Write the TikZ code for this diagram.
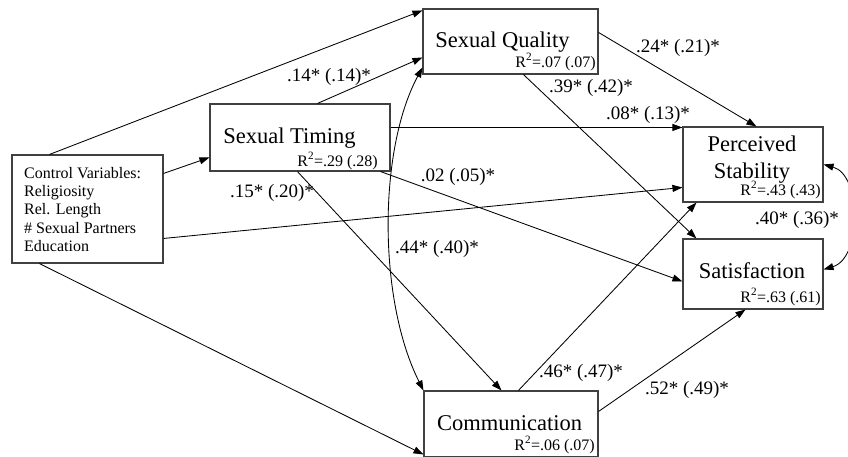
\documentclass[tikz,border=0pt]{standalone}
\usepackage{fontspec}
\setmainfont{Liberation Serif}
\usetikzlibrary{arrows.meta,calc}
\tikzset{
  box/.style={draw=black!75, line width=1.1pt, inner sep=0pt},
  title/.style={font=\fontsize{22.5}{26.5}\selectfont, inner sep=0pt, align=center},
  rsq/.style={font=\fontsize{16}{18}\selectfont, inner sep=0pt, anchor=base east},
  coef/.style={font=\fontsize{19}{21}\selectfont, inner sep=0pt},
  ctrl/.style={font=\fontsize{16}{18.3}\selectfont, inner sep=0pt, align=left, anchor=north west},
  arr/.style={line width=0.85pt, -{Triangle[length=10pt,width=7pt]}},
  darr/.style={line width=0.85pt, {Triangle[length=10pt,width=7pt]}-{Triangle[length=10pt,width=7pt]}},
}
\begin{document}
\begin{tikzpicture}[x=1pt,y=-1pt]
\useasboundingbox (0,0) rectangle (848,456);
% boxes
\node[box, minimum width=151pt, minimum height=108pt] (cv) at (87.5,209) {};
\node[box, minimum width=180pt, minimum height=67pt] (st) at (300,137.5) {};
\node[box, minimum width=175pt, minimum height=65pt] (sq) at (510.5,41.5) {};
\node[box, minimum width=140pt, minimum height=75pt] (ps) at (753,164.5) {};
\node[box, minimum width=140pt, minimum height=70pt] (sat) at (753,274) {};
\node[box, minimum width=174pt, minimum height=66pt] (com) at (511,424) {};
% texts
\node[ctrl] (cvt) at (24,167) {Control Variables:\\Religiosity\\Rel. Length\\\# Sexual Partners\\Education};
\node[title, anchor=base] (stt) at (289.5,143) {Sexual Timing};
\node[title, anchor=base] (sqt) at (502.5,47) {Sexual Quality};
\node[title] (pst) at (752,159.6) {Perceived\\Stability};
\node[title, anchor=base] (satt) at (752,278) {Satisfaction};
\node[title, anchor=base] (comt) at (509.5,430) {Communication};
\node[rsq] (str) at (378,166) {R\textsuperscript{2}=.29 (.28)};
\node[rsq] (sqr) at (596,67) {R\textsuperscript{2}=.07 (.07)};
\node[rsq] (psr) at (821,195) {R\textsuperscript{2}=.43 (.43)};
\node[rsq] (satr) at (821,302) {R\textsuperscript{2}=.63 (.61)};
\node[rsq] (comr) at (595,450) {R\textsuperscript{2}=.06 (.07)};
% connectors
\draw[arr] ($(cv.north west)+(38,0)$) -- ($(sq.north west)+(0,2)$);
\draw[arr] ($(cv.north east)+(0,19)$) -- ($(st.north west)+(0,54)$);
\draw[arr] ($(st.north west)+(108,0)$) -- ($(sq.north west)+(0,49)$);
\draw[arr] ($(st.north east)+(0,24)$) -- ($(ps.north west)+(0,1)$);
\draw[arr] ($(st.south west)+(88,0)$) -- ($(com.north west)+(78,0)$);
\draw[arr] ($(st.south east)+(-10,0)$) -- ($(sat.north west)+(0,43)$);
\draw[arr] ($(cv.north east)+(0,84)$) -- ($(ps.north west)+(0,61)$);
\draw[arr] ($(cv.south west)+(28,0)$) -- ($(com.north west)+(0,64)$);
\draw[arr] ($(sq.north east)+(0,24)$) -- ($(ps.north west)+(74,0)$);
\draw[arr] ($(sq.south west)+(101,0)$) -- ($(sat.north west)+(14,0)$);
\draw[arr] ($(com.north west)+(95,0)$) -- ($(ps.south west)+(14,0)$);
\draw[arr] ($(com.north east)+(0,21)$) -- ($(sat.south west)+(63,0)$);
\draw[darr] ($(sq.north west)+(0,59)$) .. controls (378,150) and (378,300) .. (com.north west);
\draw[darr] ($(ps.north east)+(0,38)$) .. controls (862,175) and (862,258) .. ($(sat.north east)+(0,31)$);
% coefficients
\node[coef] (c1) at (329,77) {.14* (.14)*};
\node[coef] (c2) at (272,193) {.15* (.20)*};
\node[coef] (c3) at (678,48) {.24* (.21)*};
\node[coef] (c4) at (591,88) {.39* (.42)*};
\node[coef] (c5) at (648,115) {.08* (.13)*};
\node[coef] (c6) at (458,177) {.02 (.05)*};
\node[coef] (c7) at (437,249) {.44* (.40)*};
\node[coef] (c8) at (797,220) {.40* (.36)*};
\node[coef] (c9) at (581,373) {.46* (.47)*};
\node[coef] (c10) at (687,390) {.52* (.49)*};
\end{tikzpicture}
\end{document}
